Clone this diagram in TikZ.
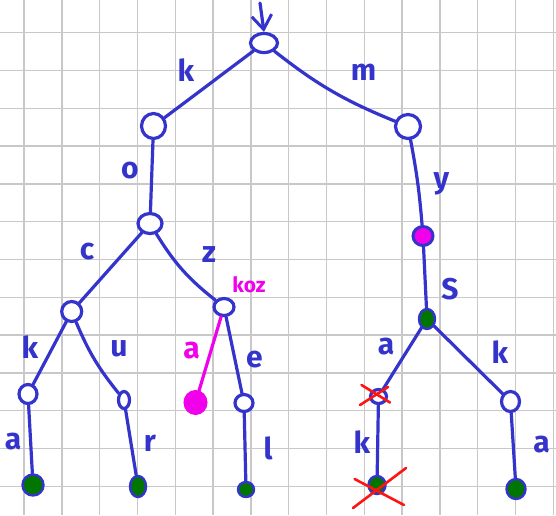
\documentclass[tikz,border=0pt]{standalone}
\usepackage{fontspec}
\setmainfont{Fira Sans}
\usetikzlibrary{arrows.meta,calc,shapes.geometric}
\definecolor{pen}{RGB}{52,52,204}
\definecolor{leafg}{RGB}{0,118,0}
\definecolor{mag}{RGB}{240,0,235}
\definecolor{xred}{RGB}{255,20,20}
\definecolor{gridc}{RGB}{200,200,200}
\begin{document}
\begin{tikzpicture}[x=1pt,y=-1pt,
  edge/.style={draw=pen,line width=3.2pt,line cap=round},
  medge/.style={draw=mag,line width=3.2pt,line cap=round},
  tnode/.style={ellipse,draw=pen,line width=3.2pt,fill=white,inner sep=0pt},
  leaf/.style={ellipse,draw=pen,line width=2.4pt,fill=leafg,inner sep=0pt},
  mnode/.style={ellipse,draw=pen,line width=3pt,fill=mag,inner sep=0pt},
  mleaf/.style={ellipse,draw=mag,line width=1pt,fill=mag,inner sep=0pt},
  lab/.style={text=pen,font=\fontsize{30}{30}\selectfont\bfseries,inner sep=0pt},
  mlab/.style={text=mag,font=\fontsize{21}{21}\selectfont\bfseries,inner sep=0pt},
  xmark/.style={draw=xred,line width=2.6pt,line cap=round},
  gridline/.style={draw=gridc,line width=1.4pt}
]
\fill[white] (0,0) rectangle (556,515);
\useasboundingbox (0,0) rectangle (556,515);
% grid
\foreach \i in {0,...,14} {\draw[gridline] (24.1+37.8*\i,0) -- (24.1+37.8*\i,515);}
\foreach \j in {0,...,12} {\draw[gridline] (0,32.7+37.8*\j) -- (556,32.7+37.8*\j);}

% nodes
\node[tnode,minimum width=27pt,minimum height=19pt] (root) at (264,43) {};
\node[tnode,minimum width=24pt,minimum height=25pt] (k1) at (153.5,126) {};
\node[tnode,minimum width=25pt,minimum height=24pt] (m1) at (408,126.5) {};
\node[tnode,minimum width=24pt,minimum height=20pt] (ko) at (150,223.5) {};
\node[mnode,minimum width=20pt,minimum height=19pt] (mys) at (423,236) {};
\node[tnode,minimum width=20pt,minimum height=20pt] (koc) at (71.7,311.5) {};
\node[tnode,minimum width=20pt,minimum height=17pt] (koz) at (224,307) {};
\node[tnode,minimum width=18pt,minimum height=19pt] (kock) at (28,394) {};
\node[tnode,minimum width=11pt,minimum height=17pt] (kocu) at (124,400) {};
\node[mleaf,minimum width=23pt,minimum height=24pt] (koza) at (195.5,402.5) {};
\node[tnode,minimum width=18pt,minimum height=17pt] (koze) at (244,403) {};
\node[leaf,minimum width=21pt,minimum height=21pt] (kocka) at (33,485) {};
\node[leaf,minimum width=16pt,minimum height=21pt] (kocur) at (138,486.5) {};
\node[leaf,minimum width=16pt,minimum height=15pt] (kozel) at (246,489.5) {};
\node[leaf,minimum width=16pt,minimum height=20pt] (myss) at (427,319) {};
\node[tnode,minimum width=16pt,minimum height=14pt] (mysa) at (378.5,396.5) {};
\node[tnode,minimum width=18pt,minimum height=20pt] (mysk) at (510.5,401.5) {};
\node[leaf,minimum width=17pt,minimum height=18pt] (mysak) at (377,485) {};
\node[leaf,minimum width=19pt,minimum height=20pt] (myska) at (516,489) {};

% entry arrow
\coordinate (rootin) at (260,3);
\draw[edge,-{Straight Barb[length=14pt,width=20pt,line width=3pt]}] (rootin) -- (root.north);

% edges
\draw[edge] (root) -- (k1);
\draw[edge] (root) to[bend right=8] (m1);
\draw[edge] (k1) -- (ko);
\draw[edge] (m1) to[bend left=3] (mys);
\draw[edge] (ko) -- (koc);
\draw[edge] (ko) to[bend right=10] (koz);
\draw[edge] (koc) -- (kock);
\draw[edge] (koc) to[bend right=8] (kocu);
\draw[medge] (koz) -- (koza);
\draw[edge] (koz) -- (koze);
\draw[edge] (kock) -- (kocka);
\draw[edge] (kocu) -- (kocur);
\draw[edge] (koze) -- (kozel);
\draw[edge] (mys) -- (myss);
\draw[edge] (myss) -- (mysa);
\draw[edge] (myss) -- (mysk);
\draw[edge] (mysa) -- (mysak);
\draw[edge] (mysk) -- (myska);

% labels
\node[lab] (lk) at (186,70) {k};
\node[lab] (lm) at (363.5,72) {m};
\node[lab] (lo) at (130,171) {o};
\node[lab] (ly) at (441.5,184) {y};
\node[lab] (lc) at (87,252) {c};
\node[lab] (lz) at (209,255) {z};
\node[mlab] (lkoz) at (249,285) {koz};
\node[lab] (lk2) at (30,347) {k};
\node[lab] (lu) at (119,349) {u};
\node[lab,text=mag] (la2) at (191.5,351) {a};
\node[lab] (le) at (254.5,360) {e};
\node[lab] (la1) at (13,442) {a};
\node[lab] (lr) at (150,443) {r};
\node[lab] (ll) at (268,448) {l};
\node[lab] (lS) at (450,289) {S};
\node[lab] (la3) at (386,347) {a};
\node[lab] (lk3) at (500,352) {k};
\node[lab] (lk4) at (362,442) {k};
\node[lab] (la4) at (541.5,445) {a};

% red crosses
\draw[xmark] ($(mysa)+(-18.5,8.5)$) -- ($(mysa)+(9.5,-9.5)$);
\draw[xmark] ($(mysa)+(-17,-11.5)$) -- ($(mysa)+(11.5,6)$);
\draw[xmark] ($(mysak)+(-24,23)$) -- ($(mysak)+(29,-17)$);
\draw[xmark] ($(mysak)+(-22.4,-6)$) -- ($(mysak)+(27,20)$);
\end{tikzpicture}
\end{document}
